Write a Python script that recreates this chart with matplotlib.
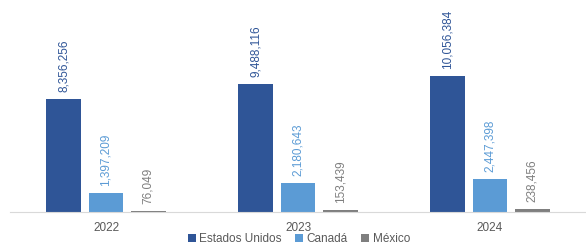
import matplotlib.pyplot as plt
import numpy as np

plt.rcParams['font.family'] = ['Liberation Sans', 'DejaVu Sans']

years = ["2022", "2023", "2024"]
series = ["Estados Unidos", "Canadá", "México"]
estados_unidos = [8356256, 9488116, 10056384]
canada = [1397209, 2180643, 2447398]
mexico = [76049, 153439, 238456]
colors = ["#2F5597", "#5B9BD5", "#7F7F7F"]

fig = plt.figure(figsize=(5.86, 2.47), dpi=100)
ax = fig.add_axes([10 / 586, 35 / 247, 576 / 586, 212 / 247])

x = np.arange(len(years))
width = 0.18
step = 0.22
for i, (vals, col, name) in enumerate(zip([estados_unidos, canada, mexico], colors, series)):
    pos = x + (i - 1) * step
    ax.bar(pos, vals, width, color=col, label=name)
    for p, v in zip(pos, vals):
        ax.annotate(f"{v:,}", (p, v), xytext=(0, 5), textcoords="offset points",
                    rotation=90, ha="center", va="bottom", fontsize=8.5, color=col)

ax.set_xlim(-0.5, 2.5)
ax.set_ylim(0, 15.68e6)
ax.set_xticks(x)
ax.set_xticklabels(years, fontsize=8.5, color="#595959")
ax.tick_params(axis="x", length=0, pad=7)
ax.set_yticks([])
for s in ["top", "right", "left"]:
    ax.spines[s].set_visible(False)
ax.spines["bottom"].set_color("#D9D9D9")

fig.legend(loc="lower center", bbox_to_anchor=(0.51, -0.035), ncol=3, frameon=False,
           fontsize=8.5, handlelength=0.7, handleheight=0.7, handletextpad=0.3,
           columnspacing=1.1, labelcolor="#595959")

fig.savefig("out.png", dpi=100)
